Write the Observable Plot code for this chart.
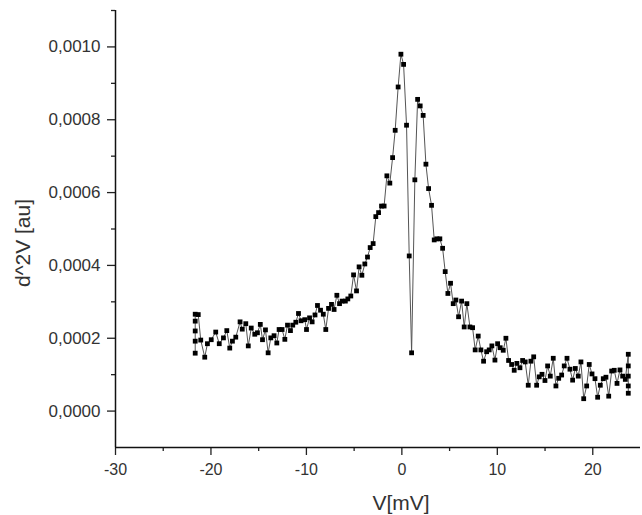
<!DOCTYPE html>
<html><head><meta charset="utf-8">
<script src="https://cdn.jsdelivr.net/npm/d3@7"></script>
<script src="https://cdn.jsdelivr.net/npm/@observablehq/plot@0.6"></script>
<style>
html,body{margin:0;padding:0;background:#fff;}
#chart svg{display:block;}
</style></head><body><div id="chart"></div>
<script>
const voltage = [-21.65,-21.65,-21.65,-21.65,-21.65,-21.33,
-21.07,-20.65,-20.37,-19.97,-19.50,-19.13,-18.69,-18.34,-18.03,-17.75,
-17.40,-16.95,-16.72,-16.35,-16.09,-15.78,-15.41,-15.13,-14.83,-14.60,
-14.29,-14.01,-13.73,-13.39,-13.10,-12.86,-12.55,-12.26,-11.98,-11.67,
-11.43,-11.11,-10.83,-10.56,-10.17,-9.99,-9.67,-9.40,-9.10,-8.84,
-8.52,-8.23,-7.97,-7.68,-7.37,-7.10,-6.81,-6.53,-6.26,-5.92,
-5.66,-5.35,-5.06,-4.75,-4.48,-4.19,-3.88,-3.60,-3.32,-3.01,
-2.73,-2.44,-2.13,-1.86,-1.57,-1.26,-0.97,-0.70,-0.39,-0.10,
0.18,0.49,0.77,1.02,1.36,1.65,1.92,2.23,2.52,2.80,
3.11,3.39,3.67,3.98,4.27,4.54,4.82,5.10,5.38,5.66,
5.94,6.26,6.53,6.81,7.13,7.41,7.68,8.00,8.28,8.56,
8.88,9.15,9.43,9.75,10.03,10.30,10.62,10.90,11.18,11.50,
11.77,12.05,12.37,12.65,12.92,13.24,13.52,13.81,14.12,14.39,
14.68,14.99,15.27,15.55,15.86,16.14,16.43,16.74,17.01,17.30,
17.61,17.89,18.17,18.48,18.76,19.05,19.36,19.63,19.92,20.23,
20.51,20.79,21.10,21.38,21.67,21.98,22.25,22.54,22.85,23.13,
23.41,23.72,23.72,23.72,23.72,23.72];
// d^2V values in units of 1e-4
const d2vE4 = [1.59,1.92,2.20,2.47,2.66,2.65,
1.95,1.48,1.85,1.96,2.17,1.85,2.01,2.21,1.73,1.92,
2.03,2.45,2.25,2.40,1.79,2.28,2.11,2.15,2.38,1.96,
2.23,1.60,2.01,2.07,1.87,2.24,2.24,1.97,2.36,2.21,
2.36,2.44,2.68,2.48,2.51,2.24,2.56,2.45,2.64,2.90,
2.77,2.66,2.24,2.82,2.93,2.79,3.18,2.95,3.02,3.02,
3.08,3.16,3.74,3.30,3.96,3.73,4.04,4.23,4.49,4.60,
5.34,5.45,5.63,5.63,6.46,6.26,6.96,7.71,8.90,9.80,
9.52,7.85,4.26,1.60,6.35,8.56,8.38,8.12,6.78,6.11,
5.65,4.70,4.73,4.73,4.47,3.83,3.23,3.51,2.95,3.05,
2.59,3.02,2.31,2.95,2.31,2.29,1.68,2.06,1.68,1.37,
1.63,1.68,1.79,1.40,1.85,1.74,1.67,2.00,1.39,1.28,
1.12,1.31,1.19,1.39,1.35,0.71,1.37,1.49,0.71,0.94,
1.01,0.84,1.24,0.96,1.45,0.69,0.90,0.99,1.24,1.45,
1.15,0.85,1.17,0.96,1.35,0.34,0.69,1.28,1.02,0.89,
0.38,0.71,0.89,0.93,0.41,1.10,1.12,0.76,1.13,0.96,
0.87,1.56,1.24,0.96,0.69,0.49];

const xMajorTicks = [-30,-20,-10,0,10,20];
const xMinorTicks = [-25,-15,-5,5,15];
const yMajorTicks = [0,0.0002,0.0004,0.0006,0.0008,0.0010];
const yMinorTicks = [0.0001,0.0003,0.0005,0.0007,0.0009,0.0011];
const xTitle = "V[mV]";
const yTitle = "d^2V [au]";

const data = voltage.map((v, i) => ({v, d: d2vE4[i] * 1e-4}));
const fmtY = d => d.toFixed(4).replace(".", ",");

const chart = Plot.plot({
  width: 642, height: 515,
  marginLeft: 115, marginTop: 10, marginBottom: 68, marginRight: 2,
  style: {fontFamily: "'Liberation Sans', Arial, sans-serif", background: "#fff", color: "#222", overflow: "visible"},
  x: {domain: [-30, 25]},
  y: {domain: [-0.0001, 0.0011]},
  marks: [
    Plot.axisX({ticks: xMajorTicks, tickSize: 8, tickPadding: 8, fontSize: 16, label: null, tickFormat: d => String(d), strokeWidth: 1.3, fill: "#333"}),
    Plot.axisX({ticks: xMinorTicks, tickSize: 4, text: null, label: null, strokeWidth: 1.3}),
    Plot.axisY({ticks: yMajorTicks, tickSize: 8, tickPadding: 7, fontSize: 17, label: null, tickFormat: fmtY, strokeWidth: 1.3, fill: "#333"}),
    Plot.axisY({ticks: yMinorTicks, tickSize: 4, text: null, label: null, strokeWidth: 1.3}),
    Plot.ruleX([-30], {stroke: "#111", strokeWidth: 1.5}),
    Plot.ruleY([-0.0001], {stroke: "#111", strokeWidth: 1.5}),
    Plot.line(data, {x: "v", y: "d", stroke: "#555", strokeWidth: 1}),
    Plot.dot(data, {x: "v", y: "d", symbol: "square", r: 2.7, fill: "#000", stroke: "none"}),
    Plot.text([yTitle], {text: d => d, frameAnchor: "left", textAnchor: "middle", lineAnchor: "middle", rotate: -90, dx: -92, dy: 14, fontSize: 21, fill: "#333"}),
    Plot.text([xTitle], {text: d => d, frameAnchor: "bottom", textAnchor: "middle", lineAnchor: "middle", dx: 23, dy: 56, fontSize: 21, fill: "#333"})
  ]
});
document.getElementById("chart").appendChild(chart);
</script></body></html>
